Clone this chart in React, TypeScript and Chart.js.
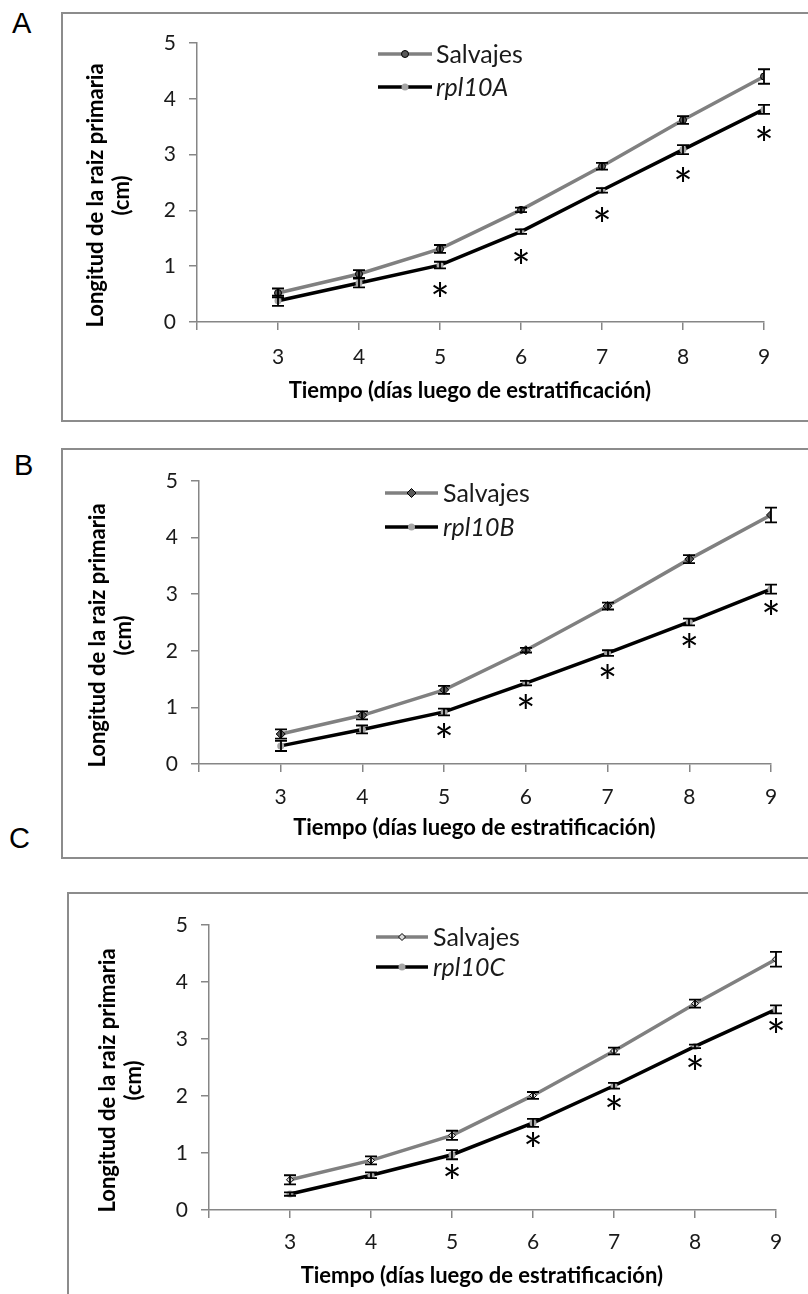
import React, { useEffect, useRef } from "react";
import { Chart, registerables } from "chart.js";
import { drawPoint } from "chart.js/helpers";
Chart.register(...registerables);

// ---------- data ----------
const days = [3, 4, 5, 6, 7, 8, 9];
const xTickValues = [2, 3, 4, 5, 6, 7, 8, 9];
const yTickValues = [0, 1, 2, 3, 4, 5];
const asteriskDays = [5, 6, 7, 8, 9];

const salvajesA = [0.52, 0.86, 1.31, 2.01, 2.79, 3.62, 4.40];
const salvajesAErr = [0.08, 0.07, 0.07, 0.04, 0.06, 0.07, 0.13];
const rpl10A = [0.38, 0.70, 1.02, 1.62, 2.36, 3.09, 3.81];
const rpl10AErr = [0.09, 0.08, 0.06, 0.04, 0.04, 0.08, 0.08];

const salvajesB = [0.53, 0.86, 1.31, 2.01, 2.79, 3.62, 4.40];
const salvajesBErr = [0.08, 0.07, 0.07, 0.04, 0.06, 0.07, 0.13];
const rpl10B = [0.32, 0.61, 0.92, 1.43, 1.96, 2.51, 3.09];
const rpl10BErr = [0.09, 0.07, 0.06, 0.04, 0.05, 0.06, 0.08];

const salvajesC = [0.53, 0.87, 1.31, 2.01, 2.79, 3.62, 4.40];
const salvajesCErr = [0.08, 0.07, 0.08, 0.06, 0.06, 0.07, 0.13];
const rpl10C = [0.28, 0.61, 0.97, 1.53, 2.18, 2.87, 3.52];
const rpl10CErr = [0.03, 0.05, 0.08, 0.07, 0.05, 0.03, 0.07];

const xTitle = "Tiempo (días luego de estratificación)\u00a0\u00a0\u00a0\u00a0";
const yTitleLines = ["Longitud de la raiz primaria", "(cm)"];
const wtLabel = "Salvajes";

type PanelCfg = {
  letter: string;
  mutLabel: string;
  wt: number[];
  wtErr: number[];
  mut: number[];
  mutErr: number[];
  wtStyle: string;
  wtRadius: number;
  wtFill: string;
  mutStyle: string;
  mutRadius: number;
  canvas: { left: number; top: number; width: number; height: number };
  yAxisW: number;
  xAxisH: number;
  padTop: number;
  padRight: number;
  xTickPad: number;
  xTitlePad: number;
  astOffset: number;
  legend: { x0: number; x1: number; tx: number; y0: number; y1: number };
};

const panels: PanelCfg[] = [
  {
    letter: "A", mutLabel: "rpl10A", wt: salvajesA, wtErr: salvajesAErr, mut: rpl10A, mutErr: rpl10AErr,
    wtStyle: "circle", wtRadius: 3.5, wtFill: "#595959", mutStyle: "circle", mutRadius: 3.5,
    canvas: { left: 62, top: 13, width: 746, height: 408 },
    yAxisW: 135, xAxisH: 99, padTop: 30, padRight: 44, xTickPad: 15, xTitlePad: 17, astOffset: 27,
    legend: { x0: 316, x1: 370, tx: 374, y0: 41, y1: 74 },
  },
  {
    letter: "B", mutLabel: "rpl10B", wt: salvajesB, wtErr: salvajesBErr, mut: rpl10B, mutErr: rpl10BErr,
    wtStyle: "rectRot", wtRadius: 4.5, wtFill: "#595959", mutStyle: "circle", mutRadius: 3.5,
    canvas: { left: 62, top: 449, width: 746, height: 409 },
    yAxisW: 137, xAxisH: 94, padTop: 32, padRight: 37, xTickPad: 13, xTitlePad: 17, astOffset: 21,
    legend: { x0: 323, x1: 376, tx: 381, y0: 44, y1: 78 },
  },
  {
    letter: "C", mutLabel: "rpl10C", wt: salvajesC, wtErr: salvajesCErr, mut: rpl10C, mutErr: rpl10CErr,
    wtStyle: "rectRot", wtRadius: 3.5, wtFill: "#d9d9d9", mutStyle: "circle", mutRadius: 3.5,
    canvas: { left: 68, top: 893, width: 740, height: 401 },
    yAxisW: 141, xAxisH: 84, padTop: 32, padRight: 32, xTickPad: 12, xTitlePad: 5, astOffset: 19,
    legend: { x0: 308, x1: 360, tx: 365, y0: 44, y1: 74 },
  },
];

const AXIS_GRAY = "#868686";
const WT_COLOR = "#808080";
const MUT_COLOR = "#000000";
const MUT_FILL = "#a6a6a6";
const TEXT = "#1a1a1a";

function Panel({ cfg }: { cfg: PanelCfg }) {
  const ref = useRef<HTMLCanvasElement>(null);
  useEffect(() => {
    const canvas = ref.current!;
    const extras = {
      id: "extras",
      afterDatasetsDraw(chart: any) {
        const ctx = chart.ctx as CanvasRenderingContext2D;
        const xs = chart.scales.x;
        const ys = chart.scales.y;
        // error bars
        ctx.save();
        ctx.strokeStyle = "#000";
        ctx.lineWidth = 1.8;
        const series: [number[], number[]][] = [
          [cfg.wt, cfg.wtErr],
          [cfg.mut, cfg.mutErr],
        ];
        for (const [vals, errs] of series) {
          vals.forEach((v, i) => {
            const px = Math.round(xs.getPixelForValue(days[i]));
            const t = ys.getPixelForValue(v + errs[i]);
            const b = ys.getPixelForValue(v - errs[i]);
            ctx.beginPath();
            ctx.moveTo(px, t);
            ctx.lineTo(px, b);
            ctx.moveTo(px - 6, t);
            ctx.lineTo(px + 6, t);
            ctx.moveTo(px - 6, b);
            ctx.lineTo(px + 6, b);
            ctx.stroke();
          });
        }
        // asterisks
        ctx.fillStyle = "#000";
        ctx.font = "46px Lato";
        ctx.textAlign = "center";
        ctx.textBaseline = "alphabetic";
        asteriskDays.forEach((d) => {
          const i = days.indexOf(d);
          const px = xs.getPixelForValue(d);
          const py = ys.getPixelForValue(cfg.mut[i]) + cfg.astOffset;
          ctx.fillText("*", px, py + 25);
        });
        // legend
        const L = cfg.legend;
        const rows = [
          { y: L.y0, color: WT_COLOR, style: cfg.wtStyle, r: cfg.wtRadius, fill: cfg.wtFill, border: 1, label: wtLabel, italic: false },
          { y: L.y1, color: MUT_COLOR, style: cfg.mutStyle, r: cfg.mutRadius, fill: MUT_FILL, border: 0, label: cfg.mutLabel, italic: true },
        ];
        for (const row of rows) {
          ctx.strokeStyle = row.color;
          ctx.lineWidth = 3.5;
          ctx.beginPath();
          ctx.moveTo(L.x0, row.y);
          ctx.lineTo(L.x1, row.y);
          ctx.stroke();
          ctx.fillStyle = row.fill;
          ctx.strokeStyle = "#000";
          ctx.lineWidth = row.border;
          drawPoint(ctx, { pointStyle: row.style as any, radius: row.r, borderWidth: row.border, rotation: 0 } as any, (L.x0 + L.x1) / 2, row.y);
          ctx.fillStyle = TEXT;
          ctx.font = (row.italic ? "italic " : "") + "25px Lato";
          ctx.textAlign = "left";
          ctx.textBaseline = "alphabetic";
          ctx.fillText(row.label, L.tx, row.y + 9);
        }
        // y title
        const ca = chart.chartArea;
        const cy = (ca.top + ca.bottom) / 2 + 13;
        ctx.fillStyle = "#000";
        ctx.font = "bold 22px Lato";
        ctx.textAlign = "center";
        ctx.textBaseline = "middle";
        const xsTitle = [ca.left - 101, ca.left - 75];
        yTitleLines.forEach((line, k) => {
          ctx.save();
          ctx.translate(xsTitle[k], cy);
          ctx.rotate(-Math.PI / 2);
          ctx.fillText(line, 0, 0);
          ctx.restore();
        });
        ctx.restore();
      },
    };

    const tickFont = { family: "Lato", size: 21 };
    const chart = new Chart(canvas, {
      type: "line",
      data: {
        datasets: [
          {
            label: wtLabel,
            data: days.map((d, i) => ({ x: d, y: cfg.wt[i] })),
            borderColor: WT_COLOR,
            borderWidth: 3.5,
            pointStyle: cfg.wtStyle as any,
            pointRadius: cfg.wtRadius,
            pointBackgroundColor: cfg.wtFill,
            pointBorderColor: "#000",
            pointBorderWidth: 1,
            tension: 0,
          },
          {
            label: cfg.mutLabel,
            data: days.map((d, i) => ({ x: d, y: cfg.mut[i] })),
            borderColor: MUT_COLOR,
            borderWidth: 3.5,
            pointStyle: cfg.mutStyle as any,
            pointRadius: cfg.mutRadius,
            pointBackgroundColor: MUT_FILL,
            pointBorderColor: MUT_FILL,
            pointBorderWidth: 0,
            tension: 0,
          },
        ],
      },
      options: {
        responsive: false,
        animation: false,
        layout: { padding: { top: cfg.padTop, right: cfg.padRight, left: 0, bottom: 0 } },
        plugins: { legend: { display: false }, tooltip: { enabled: false } },
        scales: {
          x: {
            type: "linear",
            min: 2,
            max: 9,
            afterBuildTicks: (s: any) => {
              s.ticks = xTickValues.map((v) => ({ value: v }));
            },
            ticks: {
              callback: (v: any) => (v === 2 ? "" : String(v)),
              font: tickFont,
              color: TEXT,
              padding: cfg.xTickPad,
              maxRotation: 0,
              autoSkip: false,
            },
            grid: { drawOnChartArea: false, drawTicks: true, tickLength: 8, color: AXIS_GRAY, lineWidth: 1.5 },
            border: { display: true, color: AXIS_GRAY, width: 1.5 },
            title: {
              display: true,
              text: xTitle,
              color: "#000",
              font: { family: "Lato", size: 22, weight: "bold" },
              padding: { top: 0, bottom: cfg.xTitlePad },
            },
            afterFit: (s: any) => {
              s.height = cfg.xAxisH;
            },
          },
          y: {
            min: 0,
            max: 5,
            afterBuildTicks: (s: any) => {
              s.ticks = yTickValues.map((v) => ({ value: v }));
            },
            ticks: { font: tickFont, color: TEXT, padding: 13 },
            grid: { drawOnChartArea: false, drawTicks: true, tickLength: 8, color: AXIS_GRAY, lineWidth: 1.5 },
            border: { display: true, color: AXIS_GRAY, width: 1.5 },
            afterFit: (s: any) => {
              s.width = cfg.yAxisW;
            },
          },
        },
      },
      plugins: [extras],
    });
    return () => chart.destroy();
  }, [cfg]);

  const c = cfg.canvas;
  return (
    <canvas
      ref={ref}
      width={c.width}
      height={c.height}
      style={{ position: "absolute", left: c.left, top: c.top, width: c.width, height: c.height }}
    />
  );
}

const frames = [
  { left: 61, top: 12, height: 410 },
  { left: 61, top: 448, height: 411 },
  { left: 67, top: 892, height: 500 },
];
const letters = [
  { text: "A", left: 12, top: 9 },
  { text: "B", left: 14, top: 451 },
  { text: "C", left: 9, top: 824 },
];

export default function App() {
  return (
    <div style={{ position: "absolute", left: 0, top: 0, width: 808, height: 1294, overflow: "hidden", background: "#fff" }}>
      {frames.map((f, i) => (
        <div
          key={"f" + i}
          style={{
            position: "absolute",
            left: f.left,
            top: f.top,
            width: 800,
            height: f.height,
            border: "2px solid #8c8c8c",
            boxSizing: "border-box",
          }}
        />
      ))}
      {letters.map((l) => (
        <div
          key={l.text}
          style={{
            position: "absolute",
            left: l.left,
            top: l.top,
            fontFamily: "'Liberation Sans', Arial, sans-serif",
            fontSize: 29,
            lineHeight: "28px",
            color: "#000",
          }}
        >
          {l.text}
        </div>
      ))}
      {panels.map((p) => (
        <Panel key={p.letter} cfg={p} />
      ))}
    </div>
  );
}
